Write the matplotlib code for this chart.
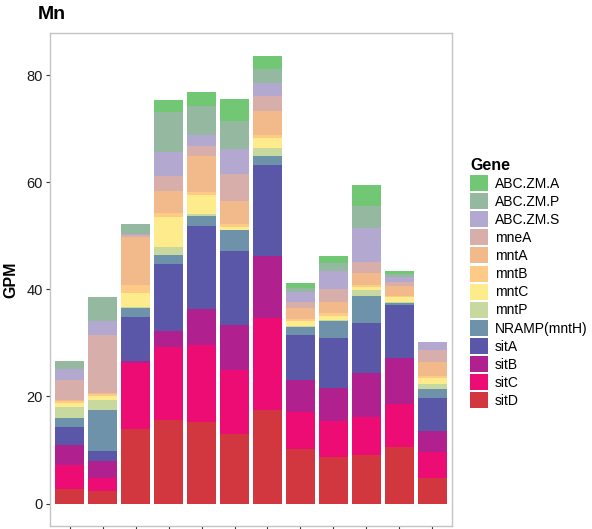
import matplotlib
matplotlib.use("Agg")
import matplotlib.pyplot as plt
import numpy as np
from matplotlib.patches import Patch

plt.rcParams["font.family"] = ["Liberation Sans", "DejaVu Sans"]

# genes from bottom of the stack to top
genes = ["sitD", "sitC", "sitB", "sitA", "NRAMP(mntH)", "mntP", "mntC",
         "mntB", "mntA", "mneA", "ABC.ZM.S", "ABC.ZM.P", "ABC.ZM.A"]

colors = ["#D2363F", "#EC0C74", "#B0208F", "#5A57A8", "#6E92AA", "#C8D9A0",
          "#FDEB8C", "#FDCB86", "#F2B98A", "#D7AEAA", "#B3A9D0", "#95B8A0",
          "#72C774"]

# GPM per gene, one value per sample (12 samples)
sitD = [2.75, 2.4, 14.0, 15.55, 15.2, 13.05, 17.4, 10.2, 8.7, 9.1, 10.6, 4.7]
sitC = [4.5, 2.4, 12.2, 13.75, 14.5, 11.85, 17.2, 6.9, 6.8, 7.1, 7.9, 4.9]
sitB = [3.75, 3.1, 0.4, 3.0, 6.7, 8.45, 11.55, 5.9, 6.0, 8.2, 8.7, 4.0]
sitA = [3.2, 2.0, 8.3, 12.5, 15.4, 13.75, 17.15, 8.5, 9.5, 9.4, 9.9, 6.2]
nramp = [1.85, 7.65, 1.6, 1.7, 2.0, 3.9, 1.7, 1.5, 3.0, 5.0, 0.4, 1.6]
mntP = [2.0, 1.75, 0.2, 1.4, 0.2, 0.0, 1.45, 0.2, 0.3, 1.0, 0.2, 1.0]
mntC = [0.75, 0.8, 2.7, 5.6, 3.7, 0.7, 1.85, 0.8, 0.8, 0.7, 0.8, 1.0]
mntB = [0.3, 0.3, 1.4, 0.8, 0.5, 0.5, 0.5, 0.5, 0.4, 0.3, 0.3, 0.5]
mntA = [0.2, 0.2, 8.9, 4.0, 6.7, 4.4, 4.5, 2.0, 2.2, 2.3, 1.9, 2.5]
mneA = [3.7, 10.9, 0.4, 2.8, 1.9, 5.0, 2.8, 1.2, 2.4, 2.1, 0.7, 2.2]
abc_s = [2.2, 2.5, 0.3, 4.5, 2.1, 4.7, 2.5, 1.9, 3.3, 6.2, 1.0, 1.5]
abc_p = [1.5, 4.65, 1.9, 7.5, 5.3, 5.1, 2.5, 0.6, 1.6, 4.1, 0.5, 0.1]
abc_a = [0.0, 0.0, 0.0, 2.3, 2.7, 4.2, 2.5, 1.0, 1.3, 4.0, 0.6, 0.0]

values = [sitD, sitC, sitB, sitA, nramp, mntP, mntC, mntB, mntA, mneA,
          abc_s, abc_p, abc_a]

fig = plt.figure(figsize=(5.92, 5.29), dpi=100)
ax = fig.add_axes([0.0845, 0.0057, 0.679, 0.932])

x = np.arange(len(sitD))
bottom = np.zeros(len(x))
for gene, col, vals in zip(genes, colors, values):
    ax.bar(x, vals, bottom=bottom, width=0.88, color=col, linewidth=0)
    bottom += np.array(vals)

ax.set_xlim(-0.6, len(x) - 0.4)
ax.set_ylim(-4.2, 87.9)
ax.set_yticks([0, 20, 40, 60, 80])
ax.set_xticks(x)
ax.set_xticklabels([])
ax.tick_params(axis="both", length=3, width=0.8, color="#333333",
               labelsize=10.5, labelcolor="#1a1a1a", pad=2)
for s in ax.spines.values():
    s.set_color("#C4C4C4")
    s.set_linewidth(1.0)

ax.set_ylabel("GPM", fontsize=11.5, fontweight="bold", labelpad=6)
fig.text(0.064, 0.972, "Mn", fontsize=14, fontweight="bold", ha="left", va="center")

handles = [Patch(facecolor=c, edgecolor="none", label=g)
           for g, c in zip(genes[::-1], colors[::-1])]
leg = fig.legend(handles=handles, title="Gene", loc="upper left",
                 bbox_to_anchor=(0.778, 0.72), frameon=False, fontsize=10,
                 title_fontproperties={"weight": "bold", "size": 11.5},
                 handlelength=1.3, handleheight=1.4, labelspacing=0.15,
                 handletextpad=0.45, borderpad=0.2)
leg._legend_box.align = "left"

fig.savefig("out.png", dpi=100)
